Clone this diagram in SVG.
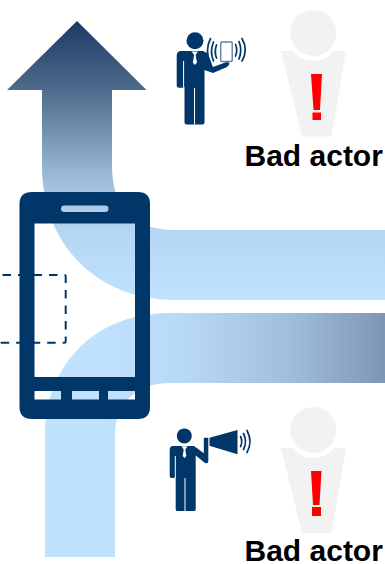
<svg xmlns="http://www.w3.org/2000/svg" width="385" height="564" viewBox="0 0 385 564">
<style>
.navy{fill:#003768}
.wave{fill:none;stroke:#003768;stroke-width:1.700;stroke-linecap:round}
.ghost{fill:#f2f2f2}
.bang{fill:#ff0000}
.slit{fill:none;stroke:#ffffff;stroke-width:1}
.label{font-family:"Liberation Sans",Arial,sans-serif;font-weight:700;font-size:30px;fill:#000}
</style>
<defs>
<linearGradient id="upFlow" gradientUnits="userSpaceOnUse" x1="0" y1="21" x2="0" y2="300">
<stop offset="0" stop-color="#1b3a68"/>
<stop offset="0.25" stop-color="#4f6b8c"/>
<stop offset="0.57" stop-color="#a0bedb"/>
<stop offset="0.75" stop-color="#b5d6f2"/>
<stop offset="1" stop-color="#c0e2fe"/>
</linearGradient>
<linearGradient id="sideFlow" gradientUnits="userSpaceOnUse" x1="100" y1="0" x2="385" y2="0">
<stop offset="0" stop-color="#c0e2fe"/>
<stop offset="0.3" stop-color="#b8d9f5"/>
<stop offset="0.65" stop-color="#a2c0dd"/>
<stop offset="1" stop-color="#7d96b3"/>
</linearGradient>
</defs>
<g id="connectors">
<path id="flow-up" fill="url(#upFlow)" d="M77 21L146.500 90H112V165C112 205 130 230 175 230H385V300H175C100 300 42 248 42 165V90H7Z"/>
<path id="flow-side" fill="url(#sideFlow)" d="M45 557V435C45 370 90 313 170 313H385V383H170C135 383 115 405 115 435V557Z"/>
<path id="dashed-link" fill="none" stroke="#003768" stroke-width="2" stroke-dasharray="8.500 7" d="M-13 275H64.500Q65.700 275 65.700 276.200V341.500Q65.700 342.700 64.500 342.700H-10"/>
</g>
<g id="phone">
<path class="navy" fill-rule="evenodd" d="M32 192H138Q150 192 150 204V407Q150 419 138 419H32Q19.500 419 19.500 407V204Q19.500 192 32 192ZM34.500 223.500V377H135V223.500ZM64.500 205.500Q61 205.500 61 208.700Q61 212 64.500 212H105Q108.500 212 108.500 208.700Q108.500 205.500 105 205.500ZM34.500 391V399.500H61V391ZM72 391V399.500H99V391ZM108 391V399.500H135V391Z"/>
</g>
<g id="person-phone">
<circle class="navy" cx="195" cy="40.700" r="8.500"/>
<path class="navy" d="M181 51H203L207 53L213 67L228 61.500L229.500 64L227 67L213 73L204.500 70V122.500Q204.500 124.500 202.500 124.500H186.500Q184.500 124.500 184.500 122.500V86.500Q184.500 87.700 182 87.700H179Q176.700 87.700 176.700 85.500V56Q176.700 51 181 51Z"/>
<path class="slit" d="M183.600 61V87.700M194.500 88V124.500"/>
<path fill="#ffffff" d="M191.500 51.500H198L195.600 55L197 62.500L194.800 65L192.800 62.500L194.200 55Z"/>
<rect x="220.700" y="42" width="11.500" height="19.500" rx="1" fill="#ffffff" stroke="#5f82a8" stroke-width="1.400"/>
<path class="wave" d="M216.500 45Q214 51.500 216.500 58"/>
<path class="wave" d="M213.500 42Q209.500 51.500 213.500 61"/>
<path class="wave" d="M210.500 38.500Q204.500 50.500 210.500 63"/>
<path class="wave" d="M235.500 44.500Q238 50 235.500 56"/>
<path class="wave" d="M239 41.500Q242.500 50 239 59"/>
<path class="wave" d="M242 38.500Q248.500 50 242 61"/>
</g>
<g id="person-megaphone">
<circle class="navy" cx="184.300" cy="435.900" r="7.500"/>
<path class="navy" d="M173 446H194L203.800 453.300V437.700H208.300V461Q208.300 464 205 463L195.700 455.500V509.500Q195.700 511 194 511H177.500Q175.700 511 175.700 509.500V476Q175.700 478 173.500 478H171.500Q169.700 478 169.700 476V450Q169.700 446 173 446Z"/>
<path class="slit" d="M175.300 456V478M185 478V511"/>
<path fill="#ffffff" d="M181.500 446.300H187.500L185.300 449.500L186.300 456L184.500 458L182.700 456L183.700 449.500Z"/>
<path class="navy" d="M209.500 437.700L237.500 430V454.300L209.500 445.700Z"/>
<path class="wave" d="M240.500 436.500Q243 441.500 240.500 446.500"/>
<path class="wave" d="M243.500 433.500Q247.500 441.500 243.500 449.500"/>
<path class="wave" d="M247 430.500Q253 441.500 247 452.500"/>
</g>
<g id="bad-actor-top">
<circle class="ghost" cx="313.300" cy="33" r="23"/>
<path class="ghost" d="M281 51H293.500C297 57 305 61 313.300 61C322 61 330 57 333.500 51H346L331.500 136.500H302Z"/>
<path class="bang" d="M311 74H322L320 110H313.500ZM312.500 112.500H321V120H312.500Z"/>
<text class="label" x="244.500" y="165.500">Bad actor</text>
</g>
<g id="bad-actor-bottom">
<circle class="ghost" cx="313.300" cy="430" r="23"/>
<path class="ghost" d="M281 448H293.500C297 454 305 458 313.300 458C322 458 330 454 333.500 448H346L331.500 533H302Z"/>
<path class="bang" d="M311 471H321.500L319.500 505H313ZM312 507H321V516H312Z"/>
<text class="label" x="244.500" y="561">Bad actor</text>
</g>
</svg>
